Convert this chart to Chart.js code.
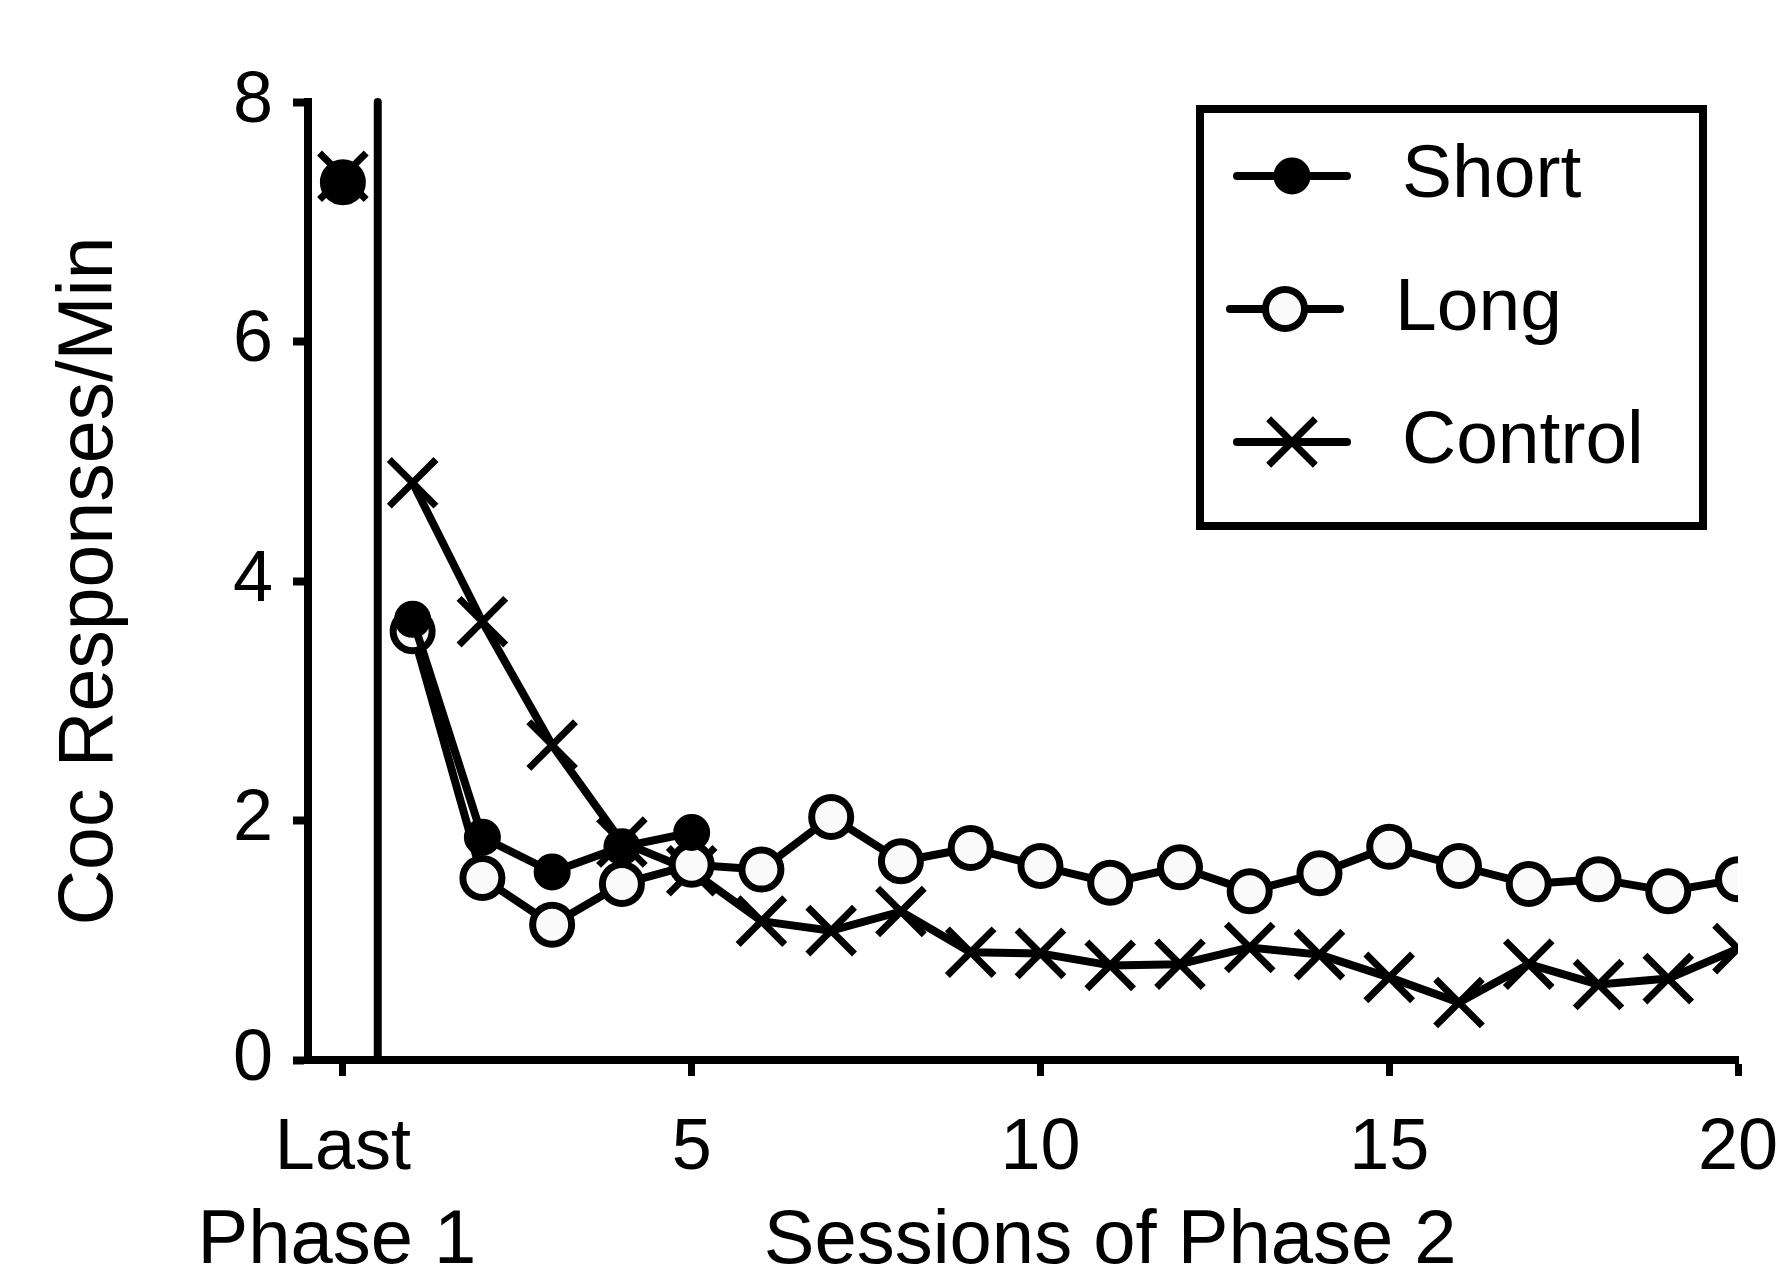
<!DOCTYPE html>
<html>
<head>
<meta charset="utf-8">
<script src="https://cdn.jsdelivr.net/npm/chart.js@4.4.1/dist/chart.umd.min.js"></script>
<style>
    html, body { margin: 0; padding: 0; background: #fff; }
    #wrap { width: 1778px; height: 1274px; }
</style>
</head>
<body>
<div id="wrap"><canvas id="grafico" width="1778" height="1274"></canvas></div>
<script>
// session 0 = last session of phase 1, 1..20 = sessions of phase 2
let sesiones = [0, 1, 2, 3, 4, 5, 6, 7, 8, 9, 10, 11, 12, 13, 14, 15, 16, 17, 18, 19, 20];
let xTicks = [0, 5, 10, 15, 20];
let yTicks = [0, 2, 4, 6, 8];
let nombres = ['Short', 'Long', 'Control'];

let shortVals = [7.33, 3.68, 1.86, 1.57, 1.78, 1.90];
let longVals = [7.33, 3.58, 1.52, 1.13, 1.47, 1.63, 1.59, 2.03, 1.66, 1.77, 1.62, 1.48, 1.61, 1.41, 1.56, 1.78, 1.62, 1.47, 1.51, 1.41, 1.51];
let controlVals = [7.38, 4.82, 3.66, 2.63, 1.82, 1.58, 1.16, 1.08, 1.24, 0.90, 0.89, 0.79, 0.80, 0.94, 0.88, 0.69, 0.48, 0.80, 0.63, 0.68, 0.93];

const fuente = "'Liberation Sans', Arial, Helvetica, sans-serif";

function serie(vals) {
    return vals.map((v, i) => ({ x: sesiones[i], y: v }));
}

// no line between phase 1 and phase 2
const sinCorte = {
    borderColor: ctx => ctx.p0DataIndex === 0 ? 'rgba(0,0,0,0)' : undefined
};

function dibujarMarcador(ctx, ds, x, y) {
    ctx.save();
    ctx.lineWidth = ds.pointBorderWidth;
    ctx.strokeStyle = ds.pointBorderColor;
    ctx.fillStyle = ds.pointBackgroundColor;
    ctx.lineCap = 'butt';
    ctx.beginPath();
    if (ds.pointStyle === 'crossRot') {
        let d = ds.pointRadius * Math.SQRT1_2;
        ctx.moveTo(x - d, y - d);
        ctx.lineTo(x + d, y + d);
        ctx.moveTo(x - d, y + d);
        ctx.lineTo(x + d, y - d);
        ctx.stroke();
    } else {
        ctx.arc(x, y, ds.pointRadius, 0, Math.PI * 2);
        ctx.fill();
        ctx.stroke();
    }
    ctx.restore();
}

const extras = {
    id: 'extras',
    beforeDatasetsDraw(chart) {
        // break between phase 1 and phase 2
        let ctx = chart.ctx;
        let x = chart.scales.x.getPixelForValue(0.5);
        let y = chart.scales.y;
        ctx.save();
        ctx.strokeStyle = '#000';
        ctx.lineWidth = 8;
        ctx.lineCap = 'round';
        ctx.beginPath();
        ctx.moveTo(x, y.getPixelForValue(8));
        ctx.lineTo(x, y.getPixelForValue(0));
        ctx.stroke();
        ctx.restore();
    },
    afterDraw(chart) {
        let ctx = chart.ctx;
        let xs = chart.scales.x;
        ctx.save();
        ctx.fillStyle = '#000';
        ctx.font = '76px ' + fuente;
        ctx.textAlign = 'center';
        ctx.textBaseline = 'middle';
        ctx.fillText('Phase 1', xs.getPixelForValue(0) - 6, 1242);
        ctx.fillText('Sessions of Phase 2', xs.getPixelForValue(11), 1242);

        // legend box
        ctx.lineWidth = 8;
        ctx.strokeStyle = '#000';
        ctx.strokeRect(1200, 109, 503, 417);

        let filas = [176, 309, 442];
        let corrido = [0, -7, 0];
        chart.data.datasets.forEach((ds, i) => {
            let y = filas[i];
            let x0 = 1237 + corrido[i];
            ctx.lineWidth = 8;
            ctx.lineCap = 'round';
            ctx.beginPath();
            ctx.moveTo(x0, y);
            ctx.lineTo(x0 + 110, y);
            ctx.stroke();
            dibujarMarcador(ctx, ds, x0 + 55, y);
            ctx.font = '75px ' + fuente;
            ctx.textAlign = 'left';
            ctx.fillStyle = '#000';
            ctx.fillText(nombres[i], x0 + 165, y);
        });
        ctx.restore();
    }
};

let ctx = document.getElementById('grafico').getContext('2d');
let chart = new Chart(ctx, {
    type: 'line',
    data: {
        datasets: [{
            label: nombres[0],
            data: serie(shortVals),
            borderColor: '#000',
            backgroundColor: '#000',
            borderWidth: 8,
            pointStyle: 'circle',
            pointRadius: 17,
            pointBorderWidth: 3,
            pointBorderColor: '#000',
            pointBackgroundColor: '#000',
            segment: sinCorte
        }, {
            label: nombres[1],
            data: serie(longVals),
            borderColor: '#000',
            backgroundColor: '#fafafa',
            borderWidth: 8,
            pointStyle: 'circle',
            pointRadius: 19.5,
            pointBorderWidth: 7,
            pointBorderColor: '#000',
            pointBackgroundColor: '#fafafa',
            segment: sinCorte
        }, {
            label: nombres[2],
            data: serie(controlVals),
            borderColor: '#000',
            backgroundColor: '#000',
            borderWidth: 8,
            pointStyle: 'crossRot',
            pointRadius: 33,
            pointBorderWidth: 7,
            pointBorderColor: '#000',
            pointBackgroundColor: '#000',
            segment: sinCorte
        }]
    },
    options: {
        responsive: false,
        animation: false,
        layout: {
            padding: { top: 102, right: 37, bottom: 0, left: 0 }
        },
        elements: {
            line: { borderJoinStyle: 'round', borderCapStyle: 'round', tension: 0 }
        },
        plugins: {
            legend: { display: false },
            tooltip: { enabled: false }
        },
        scales: {
            x: {
                type: 'linear',
                min: -0.5,
                max: 20,
                afterBuildTicks: s => { s.ticks = xTicks.map(v => ({ value: v })); },
                afterFit: s => { s.height = 214; s.paddingLeft = 0; s.paddingRight = 0; },
                ticks: {
                    callback: v => v === 0 ? 'Last' : v,
                    font: { family: fuente, size: 72 },
                    color: '#000',
                    padding: 30,
                    maxRotation: 0,
                    autoSkip: false
                },
                grid: {
                    drawOnChartArea: false,
                    drawTicks: true,
                    tickLength: 16,
                    tickWidth: 7,
                    tickColor: '#000'
                },
                border: { color: '#000', width: 8 }
            },
            y: {
                min: 0,
                max: 8,
                afterBuildTicks: s => { s.ticks = yTicks.map(v => ({ value: v })); },
                afterFit: s => { s.width = 308; s.paddingTop = 0; s.paddingBottom = 0; },
                ticks: {
                    font: { family: fuente, size: 72 },
                    color: '#000',
                    padding: 20
                },
                grid: {
                    drawOnChartArea: false,
                    drawTicks: true,
                    tickLength: 15,
                    tickWidth: 8,
                    tickColor: '#000'
                },
                border: { color: '#000', width: 8 },
                title: {
                    display: true,
                    text: 'Coc Responses/Min',
                    font: { family: fuente, size: 77 },
                    color: '#000',
                    padding: { top: 45, bottom: 0 }
                }
            }
        }
    },
    plugins: [extras]
});
</script>
</body>
</html>
